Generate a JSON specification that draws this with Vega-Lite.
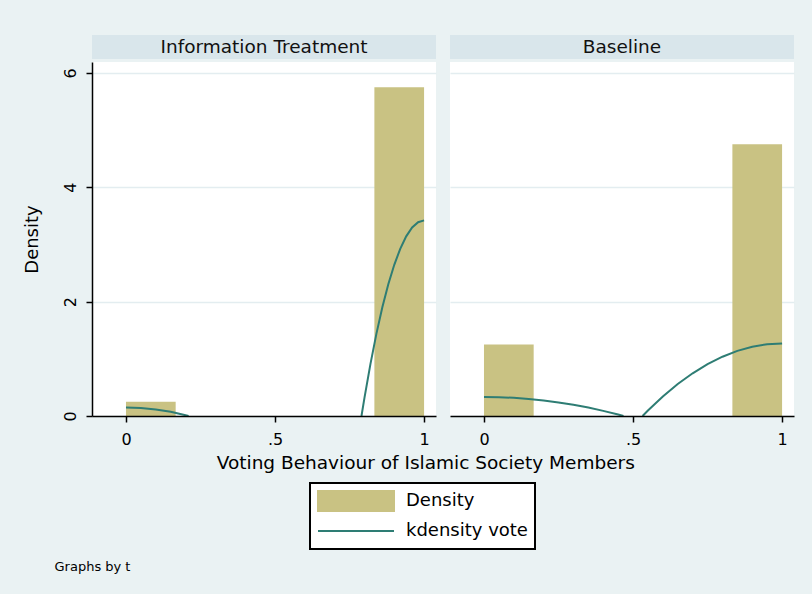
{
  "$schema": "https://vega.github.io/schema/vega-lite/v6.json",
  "background": "#EAF2F3",
  "padding": {"left": 23, "top": 35, "right": 18, "bottom": 25},
  "datasets": {
    "hist": [
      {"group": "Information Treatment", "series": "Density", "x0": 0, "x1": 0.1667, "density": 0.25},
      {"group": "Information Treatment", "series": "Density", "x0": 0.8333, "x1": 1, "density": 5.75},
      {"group": "Baseline", "series": "Density", "x0": 0, "x1": 0.1667, "density": 1.25},
      {"group": "Baseline", "series": "Density", "x0": 0.8333, "x1": 1, "density": 4.75}
    ],
    "kde": [
      {"group": "Information Treatment", "series": "kdensity vote", "seg": "a", "x": 0, "density": 0.149},
      {"group": "Information Treatment", "series": "kdensity vote", "seg": "a", "x": 0.05, "density": 0.141},
      {"group": "Information Treatment", "series": "kdensity vote", "seg": "a", "x": 0.1, "density": 0.115},
      {"group": "Information Treatment", "series": "kdensity vote", "seg": "a", "x": 0.15, "density": 0.073},
      {"group": "Information Treatment", "series": "kdensity vote", "seg": "a", "x": 0.2, "density": 0.014},
      {"group": "Information Treatment", "series": "kdensity vote", "seg": "a", "x": 0.21, "density": 0},
      {"group": "Information Treatment", "series": "kdensity vote", "seg": "b", "x": 0.79, "density": 0},
      {"group": "Information Treatment", "series": "kdensity vote", "seg": "b", "x": 0.8, "density": 0.318},
      {"group": "Information Treatment", "series": "kdensity vote", "seg": "b", "x": 0.82, "density": 0.907},
      {"group": "Information Treatment", "series": "kdensity vote", "seg": "b", "x": 0.84, "density": 1.436},
      {"group": "Information Treatment", "series": "kdensity vote", "seg": "b", "x": 0.86, "density": 1.9},
      {"group": "Information Treatment", "series": "kdensity vote", "seg": "b", "x": 0.88, "density": 2.303},
      {"group": "Information Treatment", "series": "kdensity vote", "seg": "b", "x": 0.9, "density": 2.644},
      {"group": "Information Treatment", "series": "kdensity vote", "seg": "b", "x": 0.92, "density": 2.923},
      {"group": "Information Treatment", "series": "kdensity vote", "seg": "b", "x": 0.94, "density": 3.141},
      {"group": "Information Treatment", "series": "kdensity vote", "seg": "b", "x": 0.96, "density": 3.296},
      {"group": "Information Treatment", "series": "kdensity vote", "seg": "b", "x": 0.98, "density": 3.389},
      {"group": "Information Treatment", "series": "kdensity vote", "seg": "b", "x": 1, "density": 3.42},
      {"group": "Baseline", "series": "kdensity vote", "seg": "a", "x": 0, "density": 0.333},
      {"group": "Baseline", "series": "kdensity vote", "seg": "a", "x": 0.05, "density": 0.329},
      {"group": "Baseline", "series": "kdensity vote", "seg": "a", "x": 0.1, "density": 0.318},
      {"group": "Baseline", "series": "kdensity vote", "seg": "a", "x": 0.15, "density": 0.299},
      {"group": "Baseline", "series": "kdensity vote", "seg": "a", "x": 0.2, "density": 0.272},
      {"group": "Baseline", "series": "kdensity vote", "seg": "a", "x": 0.25, "density": 0.238},
      {"group": "Baseline", "series": "kdensity vote", "seg": "a", "x": 0.3, "density": 0.196},
      {"group": "Baseline", "series": "kdensity vote", "seg": "a", "x": 0.35, "density": 0.147},
      {"group": "Baseline", "series": "kdensity vote", "seg": "a", "x": 0.4, "density": 0.09},
      {"group": "Baseline", "series": "kdensity vote", "seg": "a", "x": 0.45, "density": 0.025},
      {"group": "Baseline", "series": "kdensity vote", "seg": "a", "x": 0.468, "density": 0},
      {"group": "Baseline", "series": "kdensity vote", "seg": "b", "x": 0.532, "density": 0},
      {"group": "Baseline", "series": "kdensity vote", "seg": "b", "x": 0.55, "density": 0.096},
      {"group": "Baseline", "series": "kdensity vote", "seg": "b", "x": 0.6, "density": 0.341},
      {"group": "Baseline", "series": "kdensity vote", "seg": "b", "x": 0.65, "density": 0.56},
      {"group": "Baseline", "series": "kdensity vote", "seg": "b", "x": 0.7, "density": 0.747},
      {"group": "Baseline", "series": "kdensity vote", "seg": "b", "x": 0.75, "density": 0.907},
      {"group": "Baseline", "series": "kdensity vote", "seg": "b", "x": 0.8, "density": 1.037},
      {"group": "Baseline", "series": "kdensity vote", "seg": "b", "x": 0.85, "density": 1.139},
      {"group": "Baseline", "series": "kdensity vote", "seg": "b", "x": 0.9, "density": 1.211},
      {"group": "Baseline", "series": "kdensity vote", "seg": "b", "x": 0.95, "density": 1.255},
      {"group": "Baseline", "series": "kdensity vote", "seg": "b", "x": 1, "density": 1.269}
    ]
  },
  "title": {"text": "Graphs by t", "orient": "bottom", "anchor": "start", "fontSize": 13, "offset": 11, "dx": 31, "frame": "bounds"},
  "vconcat": [
    {
      "title": {"text": "Voting Behaviour of Islamic Society Members", "orient": "bottom", "anchor": "middle", "fontSize": 18.5, "offset": 7, "frame": "bounds", "dx": 17},
      "spacing": 14,
      "hconcat": [
        {
          "spacing": 3,
          "vconcat": [
            {
              "width": 344, "height": 24,
              "view": {"fill": "#D9E6EB", "stroke": null},
              "data": {"values": [{"label": "Information Treatment"}]},
              "mark": {"type": "text", "fontSize": 18.5, "color": "#111111", "baseline": "middle"},
              "encoding": {"text": {"field": "label", "type": "nominal"}}
            },
            {
              "width": 344, "height": 354,
              "view": {"fill": "white", "stroke": null},
              "layer": [
                {
                  "data": {"name": "hist"},
                  "transform": [{"filter": "datum.group === 'Information Treatment'"}],
                  "mark": {"type": "bar"},
                  "encoding": {
                    "x": {"field": "x0", "type": "quantitative", "scale": {"domain": [-0.114, 1.04], "nice": false, "zero": false},
                          "axis": {"values": [0, 0.5, 1], "labelExpr": "datum.value === 0.5 ? '.5' : (datum.value === 1 ? '1' : '0')", "title": null, "grid": false, "tickSize": 6, "labelPadding": 9, "labelFontSize": 16, "zindex": 1, "labelFlush": false}},
                    "x2": {"field": "x1"},
                    "y": {"field": "density", "type": "quantitative", "scale": {"domain": [0, 6.19], "nice": false},
                          "axis": {"values": [0, 2, 4, 6], "format": "d", "title": "Density", "titleFontSize": 18, "titlePadding": 21, "labelAngle": -90, "labelAlign": "center", "labelBaseline": "bottom", "labelFontSize": 16, "labelPadding": 7.5, "tickSize": 6, "grid": true}},
                    "y2": {"datum": 0},
                    "color": {"field": "series", "type": "nominal",
                              "scale": {"domain": ["Density", "kdensity vote"], "range": ["#C9C283", "#2E7D74"]},
                              "legend": {"orient": "none", "legendX": 218, "legendY": 448, "direction": "vertical", "title": null, "fillColor": "white", "strokeColor": "black", "padding": 7, "labelFontSize": 18, "labelColor": "black", "labelOffset": 11, "rowPadding": 8, "clipHeight": 22, "symbolSize": 5776, "symbolStrokeWidth": 2,
                                         "encode": {
                                           "symbols": {"update": {
                                             "shape": {"signal": "datum.value === 'Density' ? 'M-1,-0.29H1V0.29H-1Z' : 'M-1,0H1'"},
                                             "fill": {"signal": "datum.value === 'Density' ? '#C9C283' : 'transparent'"},
                                             "stroke": {"signal": "datum.value === 'Density' ? 'transparent' : '#2E7D74'"},
                                             "strokeWidth": {"value": 2},
                                             "opacity": {"value": 1}}},
                                           "legend": {"update": {"strokeWidth": {"value": 2}}}
                                         }}}
                  }
                },
                {
                  "data": {"name": "kde"},
                  "transform": [{"filter": "datum.group === 'Information Treatment'"}],
                  "mark": {"type": "line", "strokeWidth": 2},
                  "encoding": {
                    "x": {"field": "x", "type": "quantitative"},
                    "y": {"field": "density", "type": "quantitative"},
                    "color": {"field": "series", "type": "nominal"},
                    "detail": {"field": "seg"}
                  }
                }
              ]
            }
          ]
        },
        {
          "spacing": 3,
          "vconcat": [
            {
              "width": 344, "height": 24,
              "view": {"fill": "#D9E6EB", "stroke": null},
              "data": {"values": [{"label": "Baseline"}]},
              "mark": {"type": "text", "fontSize": 18.5, "color": "#111111", "baseline": "middle"},
              "encoding": {"text": {"field": "label", "type": "nominal"}}
            },
            {
              "width": 344, "height": 354,
              "view": {"fill": "white", "stroke": null},
              "layer": [
                {
                  "data": {"name": "hist"},
                  "transform": [{"filter": "datum.group === 'Baseline'"}],
                  "mark": {"type": "bar"},
                  "encoding": {
                    "x": {"field": "x0", "type": "quantitative", "scale": {"domain": [-0.114, 1.04], "nice": false, "zero": false},
                          "axis": {"values": [0, 0.5, 1], "labelExpr": "datum.value === 0.5 ? '.5' : (datum.value === 1 ? '1' : '0')", "title": null, "grid": false, "tickSize": 6, "labelPadding": 9, "labelFontSize": 16, "zindex": 1, "labelFlush": false}},
                    "x2": {"field": "x1"},
                    "y": {"field": "density", "type": "quantitative", "scale": {"domain": [0, 6.19], "nice": false},
                          "axis": {"values": [0, 2, 4, 6], "title": null, "labels": false, "ticks": false, "domain": false, "grid": true}},
                    "y2": {"datum": 0},
                    "color": {"field": "series", "type": "nominal"}
                  }
                },
                {
                  "data": {"name": "kde"},
                  "transform": [{"filter": "datum.group === 'Baseline'"}],
                  "mark": {"type": "line", "strokeWidth": 2},
                  "encoding": {
                    "x": {"field": "x", "type": "quantitative"},
                    "y": {"field": "density", "type": "quantitative"},
                    "color": {"field": "series", "type": "nominal"},
                    "detail": {"field": "seg"}
                  }
                }
              ]
            }
          ]
        }
      ]
    }
  ],
  "config": {
    "font": "DejaVu Sans",
    "view": {"stroke": null},
    "axis": {"domainColor": "black", "domainWidth": 1.5, "tickColor": "black", "tickWidth": 1.5, "labelColor": "black", "titleColor": "black", "titleFontWeight": "normal", "gridColor": "#E3EDF0", "gridWidth": 1.5},
    "title": {"fontWeight": "normal", "color": "black"}
  }
}
